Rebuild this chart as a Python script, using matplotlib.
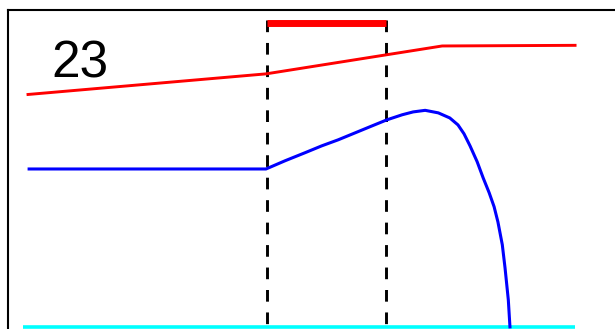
import matplotlib.pyplot as plt

# (x: 0..100 across the plot, y: 0 = cyan floor)
red_x = [0, 43.5, 75.7, 100]
red_y = [73.3, 79.8, 88.6, 88.8]

blue_x = [0.2, 43.5, 47.0, 50.6, 53.7, 56.7, 59.8, 62.9, 65.6, 68.4, 70.4,
          72.6, 75.0, 77.1, 78.6, 79.7, 80.8, 82.1, 83.2, 84.3, 85.2, 85.9,
          86.7, 87.2, 87.8, 88.1]
blue_y = [49.8, 49.8, 52.4, 54.9, 57.1, 59.0, 61.2, 63.4, 65.3, 66.9, 67.8,
          68.3, 67.5, 65.9, 63.7, 60.9, 57.1, 52.1, 47.0, 42.3, 37.9, 33.1,
          25.9, 18.6, 8.5, 0.0]

floor_x = [-0.9, 100]
floor_y = [0, 0]

window = [43.6, 65.4]
window_level = 95.8
label = "23"

fig = plt.figure(figsize=(6.15, 3.29), dpi=100)
ax = fig.add_axes([0.013, -0.0128, 1.011, 0.981])
ax.set_xlim(-3.66, 110)
ax.set_ylim(-2, 99.8)

ax.plot(floor_x, floor_y, color='cyan', lw=2.6, solid_capstyle='butt')
for xv in window:
    ax.plot([xv, xv], [96.8, -5], color='black', lw=2.1,
            linestyle=(0, (4.0, 3.7)), dash_capstyle='butt')
ax.plot(window, [window_level, window_level], color='red', lw=5,
        solid_capstyle='butt')
ax.plot(red_x, red_y, color='red', lw=2.1)
ax.plot(blue_x, blue_y, color='blue', lw=2.2)

ax.text(4.3, 78.5, label, fontsize=37, family='Liberation Sans',
        ha='left', va='baseline')

ax.set_xticks([])
ax.set_yticks([])
for s in ax.spines.values():
    s.set_linewidth(1.5)

fig.savefig('out.png', dpi=100)
